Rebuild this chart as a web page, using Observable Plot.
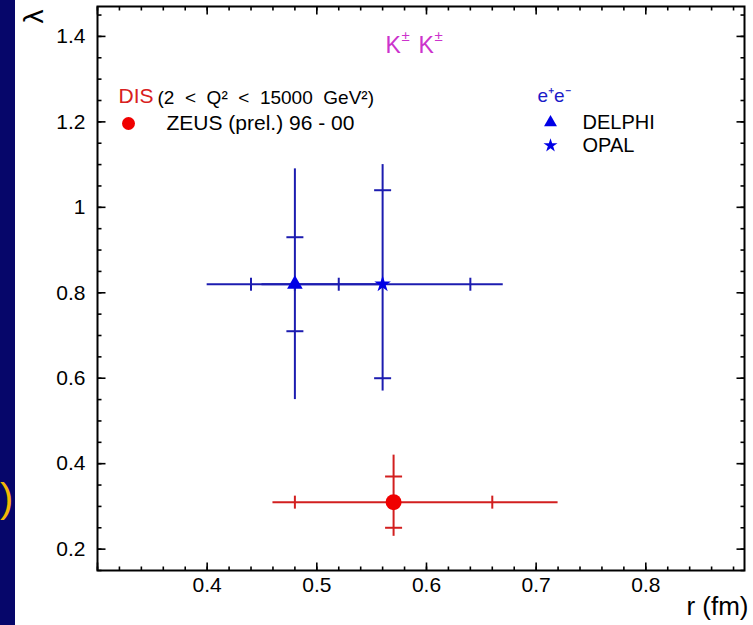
<!DOCTYPE html>
<html><head><meta charset="utf-8">
<script src="https://cdn.jsdelivr.net/npm/d3@7"></script>
<script src="https://cdn.jsdelivr.net/npm/@observablehq/plot@0.6"></script>
<style>
html,body{margin:0;padding:0;background:#fff;}
#wrap{position:relative;width:753px;height:625px;overflow:hidden;}
#strip{position:absolute;left:0;top:0;width:15px;height:625px;background:#06066a;}
#paren{position:absolute;left:0px;top:478px;font:40px "Liberation Sans";color:#f2b705;line-height:1;}
</style></head><body>
<div id="wrap"><div id="chart"></div><div id="strip"><span id="paren">)</span></div></div>
<script>
// ---- data ----
const experiments = ["ZEUS (prel.) 96 - 00", "DELPHI", "OPAL"];
const rVal      = [0.57, 0.48, 0.56];
const lamVal    = [0.31, 0.82, 0.82];
const rStatLo   = [0.48, 0.44, 0.48];
const rStatHi   = [0.66, 0.52, 0.64];
const rTotLo    = [0.46, 0.40, 0.45];
const rTotHi    = [0.72, 0.56, 0.67];
const lamStatLo = [0.25, 0.71, 0.60];
const lamStatHi = [0.37, 0.93, 1.04];
const lamTotLo  = [0.23, 0.55, 0.57];
const lamTotHi  = [0.42, 1.09, 1.10];
const xTickLabels = [0.4, 0.5, 0.6, 0.7, 0.8];
const yTickLabels = [0.2, 0.4, 0.6, 0.8, 1.0, 1.2, 1.4];

// ---- styling ----
const RED_LINE = "#d21f1f", RED_MARK = "#f00000";
const BLUE_LINE = "#1c1cb0", BLUE_MARK = "#0000e6";
const lineColor = [RED_LINE, BLUE_LINE, BLUE_LINE];

const rows = experiments.map((name, i) => ({
  name, r: rVal[i], lam: lamVal[i],
  rStatLo: rStatLo[i], rStatHi: rStatHi[i], rTotLo: rTotLo[i], rTotHi: rTotHi[i],
  lamStatLo: lamStatLo[i], lamStatHi: lamStatHi[i], lamTotLo: lamTotLo[i], lamTotHi: lamTotHi[i],
  color: lineColor[i]
}));

const X0 = 97, Y0 = 6; // frame top-left in px (for annotations)
const fmt = d => String(+d.toFixed(2));

const sym = (fn) => ({draw(c, s) { const h = Math.sqrt(s / Math.PI); fn(c, h); }});
const vbar = sym((c, h) => { c.moveTo(0, -h); c.lineTo(0, h); });
const hbar = sym((c, h) => { c.moveTo(-h, 0); c.lineTo(h, 0); });
const tUp = sym((c, h) => { c.moveTo(0, 0); c.lineTo(0, -h); });
const tDown = sym((c, h) => { c.moveTo(0, 0); c.lineTo(0, h); });
const tRight = sym((c, h) => { c.moveTo(0, 0); c.lineTo(h, 0); });
const tLeft = sym((c, h) => { c.moveTo(0, 0); c.lineTo(-h, 0); });

const xMinor = d3.range(15, 45).map(k => k * 0.02).filter(v => v >= 0.3 && v <= 0.89);
const yMinor = d3.range(3, 30).map(k => k * 0.05).filter(v => v >= 0.15 && v <= 1.47);
const xMajor = [0.3, ...xTickLabels];

const tickOpts = {fill: "none", stroke: "black", strokeWidth: 1.6};
const one = [0];
const T = (text, x, y, o = {}) => Plot.text(one, {text: () => text, frameAnchor: "top-left", dx: x - X0, dy: y - Y0, textAnchor: "start", lineAnchor: "middle", fill: "black", fontSize: 20, ...o});
const M = (symbol, x, y, r, fill) => Plot.dot(one, {frameAnchor: "top-left", dx: x - X0, dy: y - Y0, symbol, r, fill, stroke: "none"});

const chart = Plot.plot({
  width: 753, height: 625,
  marginLeft: X0, marginRight: 9, marginTop: Y0, marginBottom: 55,
  style: {fontFamily: "Liberation Sans, Arial, sans-serif", background: "white", color: "black", overflow: "visible"},
  x: {domain: [0.3, 0.89]},
  y: {domain: [0.15, 1.47]},
  marks: [
    // axis tick labels
    Plot.axisX(xTickLabels, {tickSize: 0, tickPadding: 7, tickFormat: fmt, fontSize: 21, label: null}),
    Plot.axisY(yTickLabels, {tickSize: 0, tickPadding: 12, tickFormat: fmt, fontSize: 21, label: null}),
    // inward ticks on all four sides
    Plot.dot(xMajor, {x: d => d, frameAnchor: "bottom", symbol: tUp, r: 8, ...tickOpts}),
    Plot.dot(xMinor, {x: d => d, frameAnchor: "bottom", symbol: tUp, r: 4, ...tickOpts}),
    Plot.dot(xMajor, {x: d => d, frameAnchor: "top", symbol: tDown, r: 8, ...tickOpts}),
    Plot.dot(xMinor, {x: d => d, frameAnchor: "top", symbol: tDown, r: 4, ...tickOpts}),
    Plot.dot(yTickLabels, {y: d => d, frameAnchor: "left", symbol: tRight, r: 8, ...tickOpts}),
    Plot.dot(yMinor, {y: d => d, frameAnchor: "left", symbol: tRight, r: 4, ...tickOpts}),
    Plot.dot(yTickLabels, {y: d => d, frameAnchor: "right", symbol: tLeft, r: 8, ...tickOpts}),
    Plot.dot(yMinor, {y: d => d, frameAnchor: "right", symbol: tLeft, r: 4, ...tickOpts}),
    Plot.frame({stroke: "black", strokeWidth: 2}),
    // total error bars
    Plot.ruleY(rows, {y: "lam", x1: "rTotLo", x2: "rTotHi", stroke: "color", strokeWidth: 2}),
    Plot.ruleX(rows, {x: "r", y1: "lamTotLo", y2: "lamTotHi", stroke: "color", strokeWidth: 2}),
    // statistical error ticks
    Plot.dot(rows, {x: "rStatLo", y: "lam", symbol: vbar, r: 6.5, fill: "none", stroke: "color", strokeWidth: 2}),
    Plot.dot(rows, {x: "rStatHi", y: "lam", symbol: vbar, r: 6.5, fill: "none", stroke: "color", strokeWidth: 2}),
    Plot.dot(rows, {x: "r", y: "lamStatLo", symbol: hbar, r: 8.5, fill: "none", stroke: "color", strokeWidth: 2}),
    Plot.dot(rows, {x: "r", y: "lamStatHi", symbol: hbar, r: 8.5, fill: "none", stroke: "color", strokeWidth: 2}),
    // markers
    Plot.dot(rows.filter(d => d.name === "DELPHI"), {x: "r", y: "lam", symbol: "triangle", r: 5.8, fill: BLUE_MARK, stroke: "none"}),
    Plot.dot(rows.filter(d => d.name === "OPAL"), {x: "r", y: "lam", symbol: "star", r: 5.2, fill: BLUE_MARK, stroke: "none"}),
    Plot.dot(rows.filter(d => d.name.startsWith("ZEUS")), {x: "r", y: "lam", r: 8, fill: RED_MARK, stroke: "none"}),
    // annotations
    T("K", 385, 45, {fill: "#cc33cc", fontSize: 23}),
    T("±", 401, 36, {fill: "#cc33cc", fontSize: 15}),
    T("K", 418, 45, {fill: "#cc33cc", fontSize: 23}),
    T("±", 434, 36, {fill: "#cc33cc", fontSize: 15}),
    T("DIS", 118, 96, {fill: "#d82020", fontSize: 21}),
    T("(2  <  Q²  <  15000  GeV²)", 157, 97, {fontSize: 19}),
    M("circle", 128, 123, 6.5, RED_MARK),
    T(experiments[0], 166, 123, {fontSize: 21}),
    T("e⁺e⁻", 537, 95, {fill: "#1a1ac8", fontSize: 19}),
    M("triangle", 550, 122, 4.8, BLUE_MARK),
    T(experiments[1], 582, 122, {fontSize: 20}),
    M("star", 550, 145, 4.4, BLUE_MARK),
    T(experiments[2], 582, 145, {fontSize: 20}),
    T("r (fm)", 748, 606, {textAnchor: "end", fontSize: 26}),
    T("λ", 34, 16, {textAnchor: "middle", fontSize: 28, rotate: -90})
  ]
});
document.getElementById("chart").appendChild(chart);
</script>
</body></html>
